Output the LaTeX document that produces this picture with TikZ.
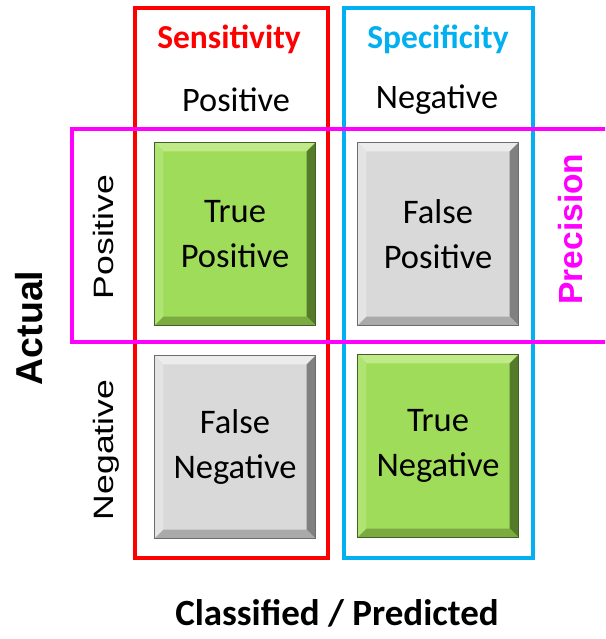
\documentclass[tikz,border=0pt]{standalone}
\usepackage{fontspec}
\setmainfont{Carlito}
\newfontfamily\arialfont{Liberation Sans}
\definecolor{gface}{RGB}{159,220,90}
\definecolor{gtop}{RGB}{192,234,136}
\definecolor{gleft}{RGB}{176,228,114}
\definecolor{gright}{RGB}{84,122,42}
\definecolor{gbot}{RGB}{122,170,64}
\definecolor{gline}{RGB}{66,96,38}
\definecolor{yface}{RGB}{217,217,217}
\definecolor{ytop}{RGB}{236,236,236}
\definecolor{yleft}{RGB}{228,228,228}
\definecolor{yright}{RGB}{128,128,128}
\definecolor{ybot}{RGB}{170,170,170}
\definecolor{yline}{RGB}{108,108,108}
\definecolor{sensred}{RGB}{255,0,0}
\definecolor{specblue}{RGB}{0,176,240}
\definecolor{precmag}{RGB}{255,0,255}
\tikzset{
  cell/.style={minimum width=161pt,minimum height=183pt,inner sep=0pt,align=center,font=\fontsize{34.5}{44.5}\selectfont,text=black},
  greencell/.style={cell,fill=gface},
  graycell/.style={cell,fill=yface},
  frame/.style={line width=4pt},
  header/.style={font=\fontsize{34.3}{40}\selectfont,text=black},
  title/.style={font=\bfseries\fontsize{33.5}{38}\selectfont},
  rowlabel/.style={font=\arialfont\fontsize{28}{32}\selectfont,text=black,anchor=base,rotate=90,xscale=1.27,inner sep=0pt},
  sidelabel/.style={font=\arialfont\bfseries\fontsize{#1}{40}\selectfont,anchor=base,rotate=90,inner sep=0pt},
  axis/.style={font=\bfseries\fontsize{37}{42}\selectfont,text=black},
}
\newcommand\bevelcell[6]{%
  \fill[#2] (#1.north west) -- (#1.north east) -- ([shift={(-9pt,-9pt)}]#1.north east) -- ([shift={(9pt,-9pt)}]#1.north west) -- cycle;
  \fill[#3] (#1.north west) -- ([shift={(9pt,-9pt)}]#1.north west) -- ([shift={(9pt,9pt)}]#1.south west) -- (#1.south west) -- cycle;
  \fill[#4] (#1.north east) -- (#1.south east) -- ([shift={(-9pt,9pt)}]#1.south east) -- ([shift={(-9pt,-9pt)}]#1.north east) -- cycle;
  \fill[#5] (#1.south west) -- ([shift={(9pt,9pt)}]#1.south west) -- ([shift={(-9pt,9pt)}]#1.south east) -- (#1.south east) -- cycle;
  \draw[#6,line width=0.8pt] (#1.north west) rectangle (#1.south east);
}
\begin{document}
\begin{tikzpicture}[x=1pt,y=-1pt]
\useasboundingbox (0,0) rectangle (605,639);
\clip (0,0) rectangle (605,639);
\fill[white] (0,0) rectangle (605,639);
% frames
\draw[frame,sensred] (135,8) rectangle (328,558);
\draw[frame,specblue] (344,8) rectangle (533,558);
\draw[frame,precmag] (72,129) rectangle (620,342);
% cells
\node[greencell] (tp) at (235,234) {True\\Positive};
\bevelcell{tp}{gtop}{gleft}{gright}{gbot}{gline}
\node[graycell] (fp) at (438,234) {False\\Positive};
\bevelcell{fp}{ytop}{yleft}{yright}{ybot}{yline}
\node[graycell] (fn) at (235,447) {False\\Negative};
\bevelcell{fn}{ytop}{yleft}{yright}{ybot}{yline}
\node[greencell] (tn) at (438,446) {True\\Negative};
\bevelcell{tn}{gtop}{gleft}{gright}{gbot}{gline}
% headings
\node[title,text=sensred] (sens) at (229,39) {Sensitivity};
\node[title,text=specblue] (spec) at (438,39) {Specificity};
\node[header] (cpos) at (236,100) {Positive};
\node[header] (cneg) at (437,100) {Negative};
\node[rowlabel] (rpos) at (113,237) {Positive};
\node[rowlabel] (rneg) at (113,450) {Negative};
\node[sidelabel=37.5,text=black] (act) at (42,328) {Actual};
\node[sidelabel=33.5,text=precmag] (prec) at (582,229) {Precision};
\node[axis] (cls) at (337,613) {Classified / Predicted};
\end{tikzpicture}
\end{document}
